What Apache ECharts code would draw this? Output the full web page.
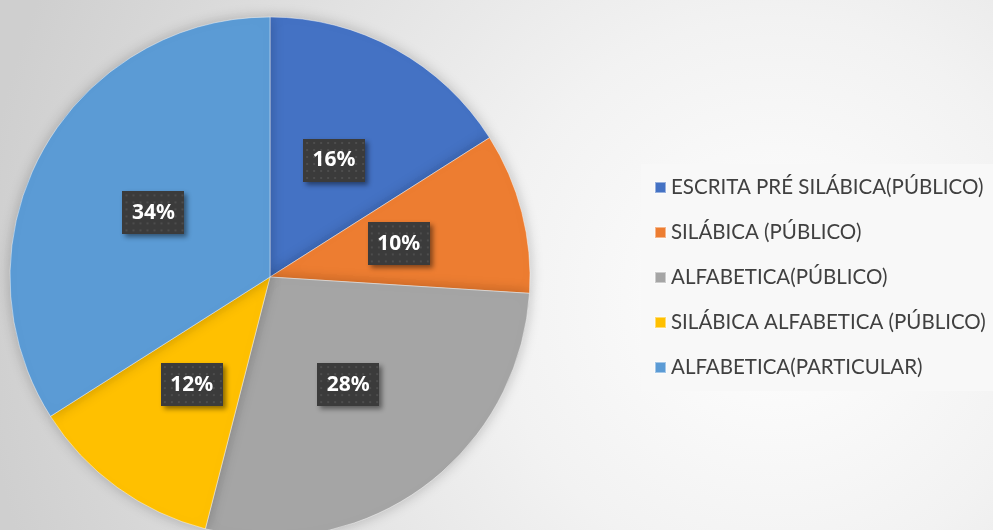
<!DOCTYPE html>
<html>
<head>
<meta charset="utf-8">
<script src="https://cdn.jsdelivr.net/npm/echarts@6/dist/echarts.min.js"></script>
<style>
  html, body { margin: 0; padding: 0; }
  #chart { width: 993px; height: 530px; }
</style>
</head>
<body>
<div id="chart"></div>
<script>
const categories = [
  'ESCRITA PRÉ SILÁBICA(PÚBLICO)',
  'SILÁBICA (PÚBLICO)',
  'ALFABETICA(PÚBLICO)',
  'SILÁBICA ALFABETICA (PÚBLICO)',
  'ALFABETICA(PARTICULAR)'
];
const values = [16, 10, 28, 12, 34];
const colors = ['#4472C4', '#ED7D31', '#A5A5A5', '#FFC000', '#5B9BD5'];

// dotted dark box behind the percentage labels
function labelPattern() {
  const c = document.createElement('canvas');
  c.width = 62; c.height = 43;
  const ctx = c.getContext('2d');
  ctx.fillStyle = '#3b3b3b';
  ctx.fillRect(0, 0, c.width, c.height);
  ctx.fillStyle = '#4d4d4d';
  for (let y = 3; y < c.height; y += 7) {
    for (let x = 3; x < c.width; x += 7) {
      ctx.fillRect(x, y, 2, 2);
    }
  }
  return c;
}

const chart = echarts.init(document.getElementById('chart'));
const option = {
  backgroundColor: {
    type: 'radial', x: 0.78, y: 0.56, r: 1.5,
    colorStops: [
      { offset: 0, color: '#ffffff' },
      { offset: 0.35, color: '#f2f2f2' },
      { offset: 1, color: '#cfcfcf' }
    ]
  },
  color: colors,
  legend: {
    orient: 'vertical',
    left: 641,
    top: 164,
    padding: [13, 10, 13, 13],
    backgroundColor: '#f8f8f8',
    icon: 'rect',
    itemWidth: 11,
    itemHeight: 11,
    itemGap: 24,
    textStyle: {
      fontFamily: 'Lato',
      fontSize: 20.5,
      color: '#404040',
      padding: [0, 0, 0, 0]
    },
    data: categories
  },
  series: [{
    type: 'pie',
    center: [270, 277],
    radius: 260,
    startAngle: 90,
    clockwise: true,
    animation: false,
    itemStyle: {
      borderColor: 'rgba(255,255,255,0.45)',
      borderWidth: 1,
      shadowBlur: 14,
      shadowColor: 'rgba(0,0,0,0.22)'
    },
    label: {
      position: 'inside',
      formatter: '{d}%',
      fontFamily: 'Noto Sans',
      fontWeight: 'bold',
      fontSize: 21,
      color: '#ffffff',
      width: 44,
      height: 25,
      align: 'center',
      verticalAlign: 'middle',
      backgroundColor: { image: labelPattern() },
      padding: [9, 9, 9, 9],
      shadowColor: 'rgba(0,0,0,0.45)',
      shadowBlur: 5,
      shadowOffsetX: 3,
      shadowOffsetY: 3
    },
    labelLine: { show: false },
    emphasis: { disabled: true },
    data: categories.map((name, i) => ({ name: name, value: values[i] }))
  }]
};
chart.setOption(option);
</script>
</body>
</html>
